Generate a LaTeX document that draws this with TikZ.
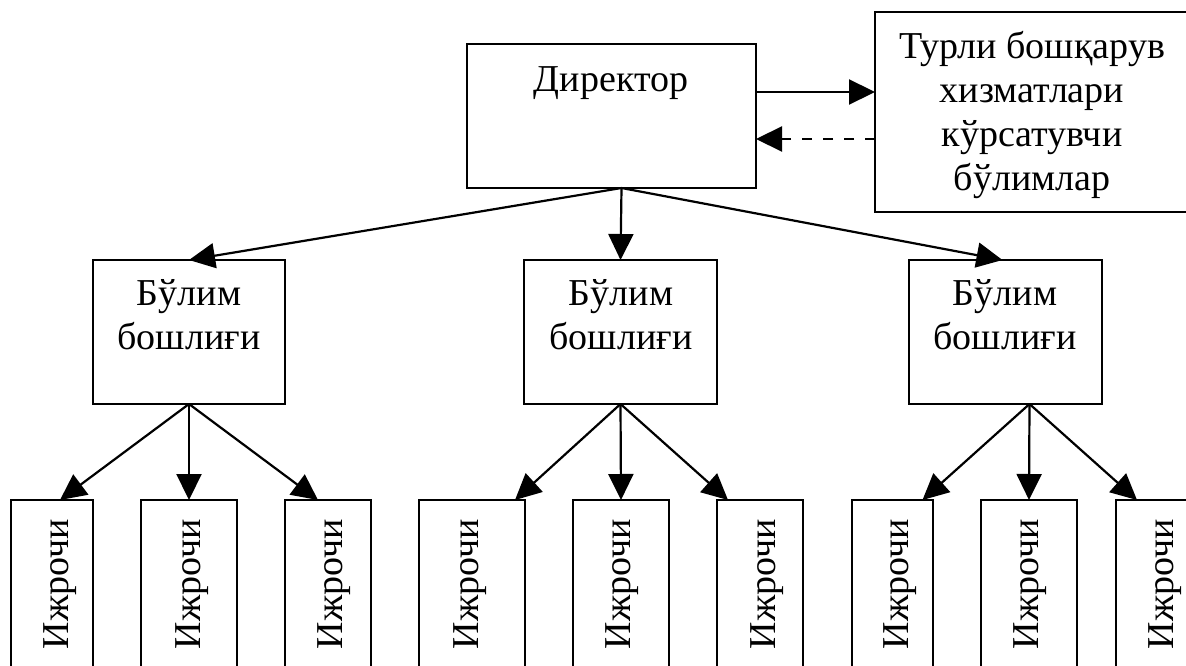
\documentclass[tikz,border=0pt]{standalone}
\usepackage{fontspec}
\setmainfont{Liberation Serif}
\usetikzlibrary{arrows.meta,calc}
\begin{document}
\begin{tikzpicture}[x=1pt,y=-1pt,
  box/.style={draw, line width=2.2pt, inner sep=0pt, outer sep=0pt, anchor=north west},
  lbl/.style={inner sep=0pt, font=\fontsize{38}{44}\selectfont, align=center},
  arr/.style={line width=2.2pt, -{Triangle[length=26pt,width=25pt]}},
  dasharr/.style={arr, dash pattern=on 10pt off 11pt}]
\clip (0,0) rectangle (1186,666);

% director and service departments (multi-line labels sit on their last baseline)
\node[box, minimum width=289pt, minimum height=144pt] (dir) at (467,44) {};
\node[lbl, anchor=base] (dirT) at (611,92) {Директор};
\node[box, minimum width=316pt, minimum height=200pt] (rb) at (875,12) {};
\node[lbl, anchor=base] (rbT) at (1032,190) {Турли бошқарув\\хизматлари\\кўрсатувчи\\бўлимлар};

% department heads
\node[box, minimum width=192pt, minimum height=144pt] (d1) at (93,260) {};
\node[box, minimum width=193pt, minimum height=144pt] (d2) at (524,260) {};
\node[box, minimum width=193pt, minimum height=144pt] (d3) at (909,260) {};
\node[lbl, anchor=base] (d1T) at (189,349) {Бўлим\\бошлиғи};
\node[lbl, anchor=base] (d2T) at (621,349) {Бўлим\\бошлиғи};
\node[lbl, anchor=base] (d3T) at (1005,349) {Бўлим\\бошлиғи};

% executors
\foreach \n/\x/\w/\t in {w11/11/82/68, w12/141/96/200, w13/285/86/342,
                         w21/419/106/478, w22/573/96/630, w23/717/86/775,
                         w31/852/81/908, w32/981/96/1038, w33/1116/90/1173} {
  \node[box, minimum width=\w pt, minimum height=220pt] (\n) at (\x,500) {};
  \node[lbl, rotate=90, anchor=base] (\n T) at (\t,584) {Ижрочи};
}

% fan-out points
\coordinate (hubD) at ($(dir.south)+(10,0)$);
\coordinate (hub1) at (d1.south);
\coordinate (hub2) at (d2.south);
\coordinate (hub3) at ($(d3.south)+(24,0)$);

% director links
\draw[arr] ($(dir.north east)+(0,48)$) coordinate (s1) -- (s1 -| rb.west);
\draw[dasharr] ($(rb.north west)+(0,127)$) coordinate (s2) -- (s2 -| dir.east);
\draw[arr] (hubD) -- (d1.north);
\draw[arr] (hubD) -- (d2.north);
\draw[arr] (hubD) -- ($(d3.north)+(-3,0)$);

% department links
\draw[arr] (hub1) -- ($(w11.north)+(8,0)$);
\draw[arr] (hub1) -- (w12.north);
\draw[arr] (hub1) -- ($(w13.north)+(-10,0)$);
\draw[arr] (hub2) -- ($(w21.north)+(43,0)$);
\draw[arr] (hub2) -- (w22.north);
\draw[arr] (hub2) -- ($(w23.north)+(-32,0)$);
\draw[arr] (hub3) -- ($(w31.north)+(30,0)$);
\draw[arr] (hub3) -- (w32.north);
\draw[arr] (hub3) -- ($(w33.north)+(-24,0)$);
\end{tikzpicture}
\end{document}
